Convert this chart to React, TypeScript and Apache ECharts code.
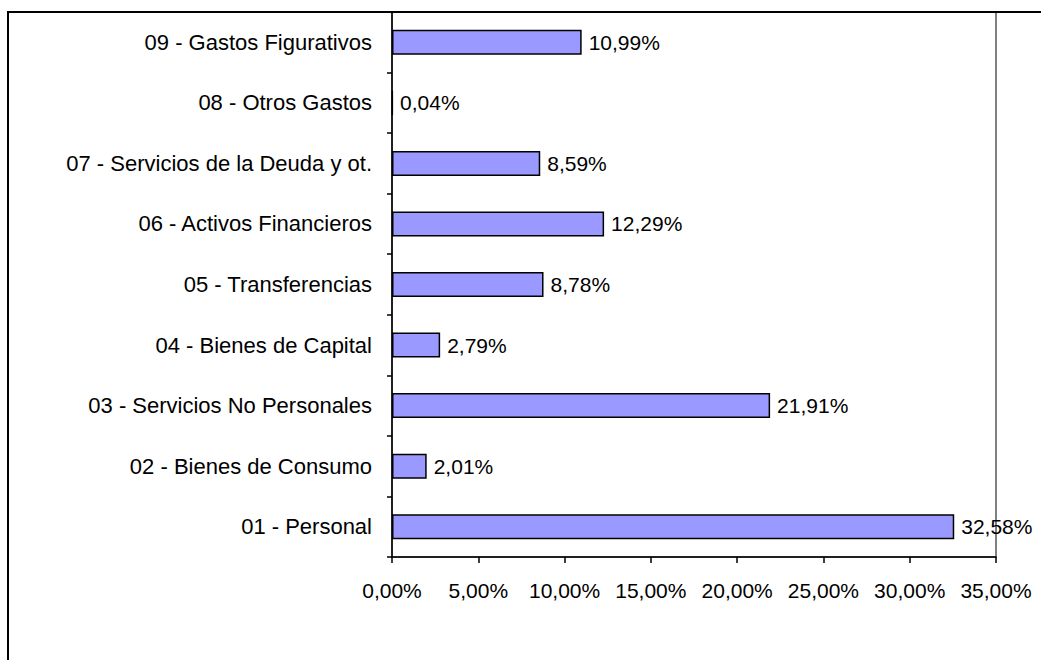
import React, { useEffect, useRef } from "react";
import * as echarts from "echarts";

const categories = [
  "01 - Personal",
  "02 - Bienes de Consumo",
  "03 - Servicios No Personales",
  "04 - Bienes de Capital",
  "05 - Transferencias",
  "06 - Activos Financieros",
  "07 - Servicios de la Deuda y ot.",
  "08 - Otros Gastos",
  "09 - Gastos Figurativos",
];
const values = [32.58, 2.01, 21.91, 2.79, 8.78, 12.29, 8.59, 0.04, 10.99];

const fmt = (v: number) => v.toFixed(2).replace(".", ",") + "%";
const FONT = "'Liberation Sans', Arial, sans-serif";

export default function App() {
  const ref = useRef<HTMLDivElement>(null);
  useEffect(() => {
    if (!ref.current) return;
    const chart = echarts.init(ref.current, undefined, { renderer: "svg" });
    chart.setOption({
      animation: false,
      backgroundColor: "#ffffff",
      textStyle: { fontFamily: FONT },
      grid: {
        left: 392,
        right: 45,
        top: 12,
        bottom: 103,
        show: true,
        borderColor: "#808080",
        borderWidth: 2,
      },
      xAxis: {
        type: "value",
        min: 0,
        max: 35,
        interval: 5,
        splitLine: { show: false },
        axisLine: { show: true, lineStyle: { color: "#000", width: 1.5 } },
        axisTick: { show: true, length: 6, lineStyle: { color: "#000", width: 1.5 } },
        axisLabel: {
          formatter: (v: number) => fmt(v),
          color: "#000",
          fontSize: 21,
          fontFamily: FONT,
          margin: 23,
        },
      },
      yAxis: {
        type: "category",
        data: categories,
        axisLine: { show: true, lineStyle: { color: "#000", width: 1.5 } },
        axisTick: { show: true, length: 5, lineStyle: { color: "#000", width: 1.5 } },
        axisLabel: {
          color: "#000",
          fontSize: 22,
          fontFamily: FONT,
          margin: 20,
        },
      },
      series: [
        {
          type: "bar",
          data: values,
          barWidth: 25,
          itemStyle: { color: "#9999FF", borderColor: "#000", borderWidth: 1.5 },
          label: {
            show: true,
            position: "right",
            distance: 7,
            formatter: (p: any) => fmt(p.value),
            color: "#000",
            fontSize: 21,
            fontFamily: FONT,
          },
        },
      ],
      graphic: [
        {
          type: "rect",
          shape: { x: 8, y: 12, width: 1100, height: 700 },
          style: { fill: "none", stroke: "#000", lineWidth: 2 },
          silent: true,
        },
      ],
    });
    return () => chart.dispose();
  }, []);
  return (
    <div
      ref={ref}
      style={{ position: "absolute", left: 0, top: 0, width: 1041, height: 660 }}
    />
  );
}
